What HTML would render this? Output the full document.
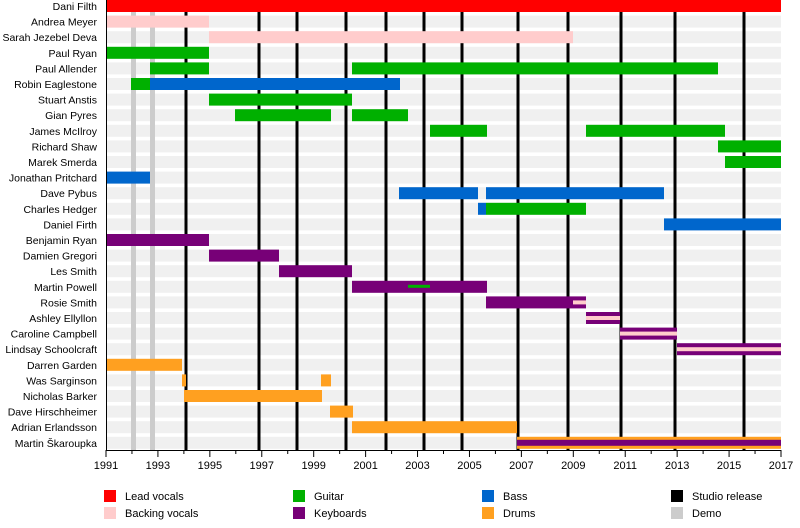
<!DOCTYPE html>
<html><head><meta charset="utf-8"><style>body{margin:0;background:#fff}svg{display:block;font-family:"Liberation Sans",sans-serif}</style></head><body>
<svg width="800" height="528" xmlns="http://www.w3.org/2000/svg" font-size="10.5">
<g id="bands"></g>
<g id="lines"></g>
<g id="bars"></g>
<g id="labels" text-anchor="end" fill="#000"></g>
<g id="axis"></g>
<g id="legend"></g>
<script>
const NS="http://www.w3.org/2000/svg";
function el(p,t,a,txt){const e=document.createElementNS(NS,t);for(const k in a)e.setAttribute(k,a[k]);if(txt!==undefined)e.textContent=txt;document.getElementById(p).appendChild(e);return e;}
const R="#ff0000",PK="#ffcccc",G="#00b000",B="#0066cc",P="#770077",O="#ffa020";
const rows=[
["Dani Filth",[[106,781,R]]],
["Andrea Meyer",[[106,209,PK]]],
["Sarah Jezebel Deva",[[209,573,PK]]],
["Paul Ryan",[[106,209,G]]],
["Paul Allender",[[150,209,G],[352,718,G]]],
["Robin Eaglestone",[[131,150,G],[150,400,B]]],
["Stuart Anstis",[[209,352,G]]],
["Gian Pyres",[[235,331,G],[352,408,G]]],
["James McIlroy",[[430,487,G],[586,725,G]]],
["Richard Shaw",[[718,781,G]]],
["Marek Smerda",[[725,781,G]]],
["Jonathan Pritchard",[[106,150,B]]],
["Dave Pybus",[[399,478,B],[486,664,B]]],
["Charles Hedger",[[478,486,B],[486,586,G]]],
["Daniel Firth",[[664,781,B]]],
["Benjamin Ryan",[[106,209,P]]],
["Damien Gregori",[[209,279,P]]],
["Les Smith",[[279,352,P]]],
["Martin Powell",[[352,487,P],[408,430,G,4,3]]],
["Rosie Smith",[[486,586,P],[573,586,PK,4,4]]],
["Ashley Ellyllon",[[586,620,P],[586,620,PK,4,4]]],
["Caroline Campbell",[[620,677,P],[620,677,PK,4,4]]],
["Lindsay Schoolcraft",[[677,781,P],[677,781,PK,4,4]]],
["Darren Garden",[[106,182,O]]],
["Was Sarginson",[[182,186,O],[321,331,O]]],
["Nicholas Barker",[[184,322,O]]],
["Dave Hirschheimer",[[330,353,O]]],
["Adrian Erlandsson",[[352,517,O]]],
["Martin Škaroupka",[[517,781,O],[517,781,P,3,6]]]
];
const pitch=15.6;
rows.forEach((r,i)=>{
  const ty=i*pitch;
  el("bands","rect",{x:106,y:ty,width:675,height:12,fill:"#f0f0f0"});
  r[1].forEach(b=>{
    const off=b[3]||0,h=b[4]||12;
    el("bars","rect",{x:b[0],y:ty+off,width:b[1]-b[0],height:h,fill:b[2]});
  });
  el("labels","text",{x:97,y:ty+10},r[0]);
});
[133.5,152.5].forEach(x=>el("lines","rect",{x:x-2.5,y:0,width:5,height:450,fill:"#cccccc"}));
[186,259,297,346,386,424,462,518,568,621,675,744].forEach(x=>el("lines","rect",{x:x-1.5,y:0,width:3,height:450,fill:"#000"}));
el("axis","line",{x1:106.5,y1:0,x2:106.5,y2:450,stroke:"#000"});
el("axis","line",{x1:106,y1:450.5,x2:781,y2:450.5,stroke:"#000"});
const ppy=675/26;
for(let k=0;k<=26;k++){const x=106+k*ppy;const maj=k%2==0;
  el("axis","line",{x1:x,y1:450,x2:x,y2:maj?457:454,stroke:"#000"});
  if(maj)el("axis","text",{x:x,y:469,"text-anchor":"middle","font-size":"11"},String(1991+k));}
const leg=[[104,490,R,"Lead vocals"],[104,507,PK,"Backing vocals"],[293,490,G,"Guitar"],[293,507,P,"Keyboards"],[482,490,B,"Bass"],[482,507,O,"Drums"],[671,490,"#000","Studio release"],[671,507,"#cccccc","Demo"]];
leg.forEach(l=>{el("legend","rect",{x:l[0],y:l[1],width:12,height:12,fill:l[2]});el("legend","text",{x:l[0]+21,y:l[1]+10,"font-size":"11"},l[3]);});
</script>
</svg>
</body></html>
